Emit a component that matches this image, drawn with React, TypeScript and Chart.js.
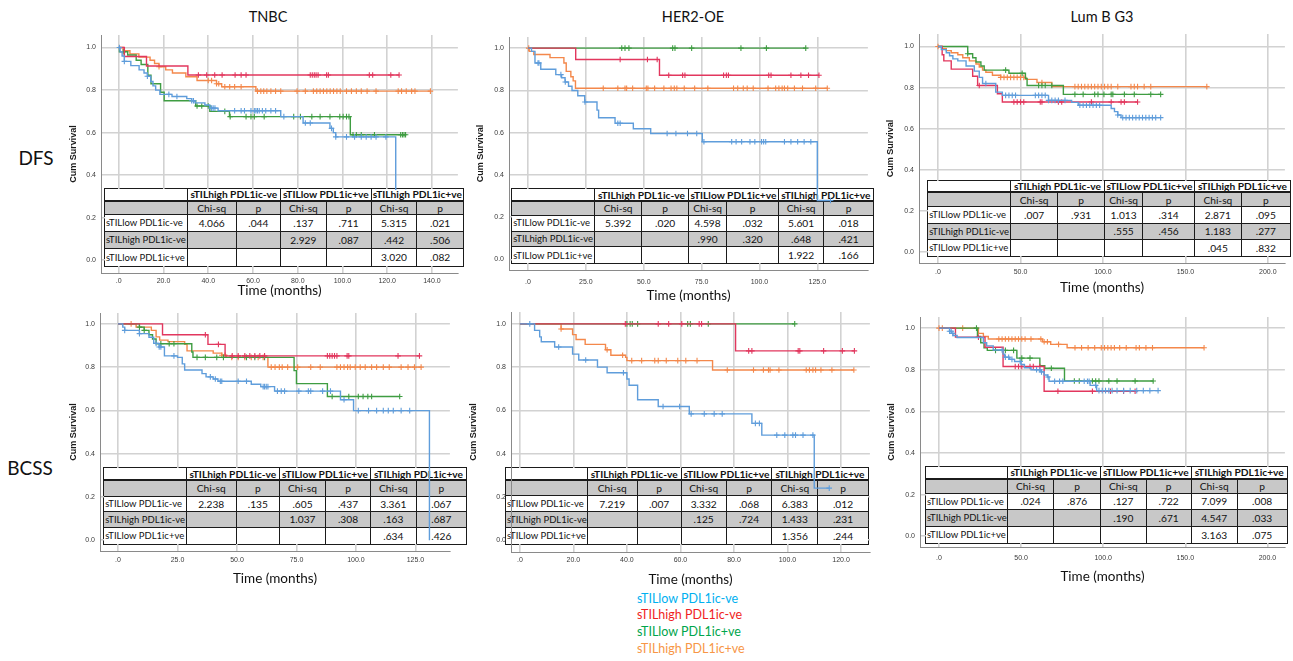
import React, { useEffect, useRef } from "react";
import { Chart, registerables } from "chart.js";

Chart.register(...registerables);

type Step = [number, number];

// ---------- categories & labels ----------
const seriesLabels = ["sTILlow PDL1ic-ve", "sTILhigh PDL1ic-ve", "sTILlow PDL1ic+ve", "sTILhigh PDL1ic+ve"];
const lineColors = ["#5f9ddb", "#e2375e", "#3f9d42", "#f4884b"];
const legendColors = ["#00b0f0", "#f01e23", "#00a54c", "#f79646"];
const columnGroups = ["sTILhigh PDL1ic-ve", "sTILlow PDL1ic+ve", "sTILhigh PDL1ic+ve"];
const rowLabels = ["sTILlow PDL1ic-ve", "sTILhigh PDL1ic-ve", "sTILlow PDL1ic+ve"];
const subHeaders = ["Chi-sq", "p"];
const subtypeTitles = ["TNBC", "HER2-OE", "Lum B G3"];
const endpointTitles = ["DFS", "BCSS"];
const yTicks = [0, 0.2, 0.4, 0.6, 0.8, 1.0];
const xTicksTnbcDfs = [0, 20, 40, 60, 80, 100, 120, 140];
const xTicksHer2Dfs = [0, 25, 50, 75, 100, 125];
const xTicksLumB = [0, 50, 100, 150, 200];
const xTicksTnbcBcss = [0, 25, 50, 75, 100, 125];
const xTicksHer2Bcss = [0, 20, 40, 60, 80, 100, 120];

// ---------- TNBC DFS ----------
const tnbcDfsBlue: Step[] = [[0.6, 0.98], [1.5, 0.96], [2.5, 0.935], [5.4, 0.915], [9.1, 0.895], [11.3, 0.88], [12.8, 0.865], [14.3, 0.84], [15.3, 0.82], [16.5, 0.8], [18.4, 0.78], [23.8, 0.77], [30.4, 0.76], [32.6, 0.75], [34.1, 0.74], [38.5, 0.73], [40.7, 0.715], [44.4, 0.703], [72.4, 0.675], [82.4, 0.645], [94.4, 0.62], [95.9, 0.6], [97, 0.58], [123.8, 0.33]];
const tnbcDfsBlueCens = [0.3, 2.5, 12.8, 22.4, 26, 32.6, 33.4, 41.5, 42.2, 43, 51.8, 54.7, 56.2, 59.1, 60.6, 61.3, 62, 62.8, 64.2, 65.7, 68, 70.1, 73.8, 83.4, 85.6, 95.1, 97, 101.8, 105.4, 108.4, 110.6, 112.8, 115, 119.4];
const tnbcDfsRed: Step[] = [[2.5, 0.958], [12.4, 0.913], [30.9, 0.871]];
const tnbcDfsRedCens = [35.6, 39.3, 42.9, 46.2, 52, 54.7, 56.9, 85.6, 86.5, 87.4, 88.2, 89.1, 92.9, 93.7, 112, 113.5, 121.6, 125.3];
const tnbcDfsGreen: Step[] = [[0.3, 0.98], [4, 0.965], [7.8, 0.94], [10, 0.92], [13, 0.87], [14.4, 0.83], [18.7, 0.79], [20.3, 0.75], [34.4, 0.725], [40.7, 0.7], [49.5, 0.675], [103.5, 0.59]];
const tnbcDfsGreenCens = [2, 35, 37.1, 40, 47.4, 49.8, 56.9, 59.1, 60.6, 65, 78.2, 81.2, 86.3, 90, 94.4, 98.8, 100.3, 101.8, 102.9, 104.7, 106.2, 108.4, 114.3, 126, 126.8, 127.5, 128.2];
const tnbcDfsOrange: Step[] = [[2, 0.985], [5, 0.97], [9, 0.955], [14, 0.94], [16, 0.925], [18, 0.91], [21, 0.895], [24, 0.88], [30, 0.863], [35, 0.845], [43.7, 0.83], [46, 0.816], [61.3, 0.795]];
const tnbcDfsOrangeCens = [18, 40, 41.5, 43.7, 44.7, 47.4, 49.6, 51.8, 54.7, 62, 63.5, 64.8, 66.2, 68, 70.1, 72.4, 79.7, 83.4, 87, 88.5, 90, 91.5, 93, 94.5, 96, 97.5, 99, 101.8, 104, 106.2, 108.4, 111, 115, 124.9, 126.4, 128.5, 130.9, 132.4, 139.3];
const tnbcDfsStats = [
  ["4.066", ".044", ".137", ".711", "5.315", ".021"],
  ["", "", "2.929", ".087", ".442", ".506"],
  ["", "", "", "", "3.020", ".082"],
];

// ---------- HER2-OE DFS ----------
const her2DfsBlue: Step[] = [[1.5, 0.985], [3, 0.93], [5.5, 0.9], [12, 0.875], [14.5, 0.86], [16, 0.84], [17.5, 0.82], [19, 0.8], [21.5, 0.775], [24.5, 0.745], [29.8, 0.707], [30.5, 0.671], [37.6, 0.645], [45.5, 0.619], [53, 0.596], [75.3, 0.557], [125, 0.279]];
const her2DfsBlueCens = [4.3, 4.7, 14.2, 16.1, 24.6, 38.8, 39.8, 60.1, 63.9, 68.9, 72.9, 76, 88, 89.9, 92.3, 95.9, 98, 100.9, 101.8, 102.7, 110.8, 113.6, 116.5, 119.3, 122.2, 130.7];
const her2DfsRed: Step[] = [[20.6, 0.946], [56.8, 0.872]];
const her2DfsRedCens = [39.8, 51.6, 55.8, 60.8, 66.8, 67.8, 84.5, 85.7, 86.6, 104, 105, 113.6, 117.9, 121.2, 125.7];
const her2DfsGreen: Step[] = [];
const her2DfsGreenCens = [40.5, 41.9, 43.6, 62.5, 63.5, 70.7, 92, 103, 120];
const her2DfsOrange: Step[] = [[0.5, 0.985], [2.5, 0.97], [9.5, 0.955], [15.5, 0.93], [16.5, 0.89], [18.5, 0.865], [19.5, 0.845], [20.5, 0.81]];
const her2DfsOrangeCens = [0.3, 32.5, 38.8, 41.9, 42.6, 45.2, 51.1, 51.8, 54.7, 58.7, 61.8, 63.2, 64.3, 67.5, 72, 77.7, 88.8, 90.6, 93, 94.7, 97.3, 103.7, 107, 108.4, 109.8, 110.8, 112.2, 115.1, 118.6, 124.3, 129.3];
const her2DfsStats = [
  ["5.392", ".020", "4.598", ".032", "5.601", ".018"],
  ["", "", ".990", ".320", ".648", ".421"],
  ["", "", "", "", "1.922", ".166"],
];

// ---------- Lum B G3 DFS ----------
const lumbDfsBlue: Step[] = [[2, 0.985], [5, 0.97], [7, 0.955], [9, 0.94], [12, 0.93], [17, 0.905], [22, 0.88], [25, 0.85], [27, 0.82], [35, 0.778], [39, 0.762], [67, 0.738], [81, 0.728], [85, 0.714], [105, 0.698], [107, 0.683], [109, 0.667], [111, 0.654]];
const lumbDfsBlueCens = [29, 41, 43, 45, 47, 59, 61, 63, 65, 67, 69, 71, 73, 77, 86, 88, 90, 92, 94, 96, 98, 109, 112, 114, 116, 118, 120, 122, 124, 126, 128, 130, 132, 135];
const lumbDfsRed: Step[] = [[2.5, 0.96], [3.5, 0.93], [8, 0.89], [21, 0.855], [24, 0.81], [36, 0.77], [39, 0.73]];
const lumbDfsRedCens = [25, 46, 48, 50, 52, 62, 63, 73, 75, 93, 105, 111, 113, 121];
const lumbDfsGreen: Step[] = [[18, 0.965], [21, 0.945], [23, 0.925], [26, 0.905], [28, 0.885], [43, 0.87], [53, 0.845], [54, 0.81], [76, 0.767]];
const lumbDfsGreenCens = [18, 41, 51, 61, 63, 65, 69, 83, 88, 95, 97, 100.6, 105, 106, 113, 119, 129, 135];
const lumbDfsOrange: Step[] = [[2.5, 0.99], [5, 0.98], [8, 0.97], [12, 0.96], [15, 0.945], [19, 0.93], [23, 0.915], [25, 0.9], [27, 0.885], [29, 0.875], [33, 0.86], [38, 0.85], [53, 0.84], [60, 0.825], [69, 0.805]];
const lumbDfsOrangeCens = [0, 38, 40, 42, 44, 46, 48, 50, 52, 63, 83, 85, 87, 89, 91, 93, 95, 97, 99, 101, 103, 105, 109, 117, 119, 121, 125, 129, 163];
const lumbDfsStats = [
  [".007", ".931", "1.013", ".314", "2.871", ".095"],
  ["", "", ".555", ".456", "1.183", ".277"],
  ["", "", "", "", ".045", ".832"],
];

// ---------- TNBC BCSS ----------
const tnbcBcssBlue: Step[] = [[2, 0.985], [2.8, 0.97], [9, 0.955], [13, 0.938], [15, 0.91], [17.3, 0.893], [19.5, 0.852], [25, 0.845], [27, 0.815], [28, 0.787], [35.3, 0.77], [37, 0.755], [40, 0.745], [42, 0.735], [56, 0.721], [60, 0.71], [65.8, 0.689], [93.5, 0.649], [99, 0.599], [130.9, 0]];
const tnbcBcssBlueCens = [2.8, 9, 16, 17.3, 18, 23.5, 38.8, 40.9, 43, 43.6, 50.5, 54, 61, 61.6, 62.3, 63, 67, 68.6, 70, 76, 80, 81, 86, 89.3, 95, 101, 105.3, 108.7, 111.5, 113.6, 115.7, 119, 122.6];
const tnbcBcssRed: Step[] = [[18.7, 0.95], [37.8, 0.905], [45, 0.852]];
const tnbcBcssRedCens = [36.7, 42.2, 48, 50.5, 53.3, 55.4, 57.5, 59.6, 61.6, 88, 89, 90, 91, 92, 96.3, 97, 117.7, 126.7];
const tnbcBcssGreen: Step[] = [[9, 0.985], [11, 0.97], [13, 0.95], [14.5, 0.93], [16, 0.908], [31, 0.87], [31.5, 0.845], [74, 0.784], [75, 0.724], [88, 0.664]];
const tnbcBcssGreenCens = [9, 11, 18, 21.5, 23.5, 33.2, 36.7, 41.5, 44.3, 54, 57.5, 61.6, 90, 97, 101, 103, 105, 106.6, 118.4];
const tnbcBcssOrange: Step[] = [[7.6, 0.985], [14, 0.97], [16, 0.94], [17.5, 0.925], [21, 0.918], [28, 0.905], [29, 0.875], [40, 0.865], [43.6, 0.855], [45.5, 0.845], [63, 0.8]];
const tnbcBcssOrangeCens = [5.5, 43.6, 45, 47.8, 50.5, 53.3, 56, 58.9, 61, 64.4, 66, 67.8, 69, 71.3, 75.5, 81, 85, 92, 93.5, 95, 96.5, 97.6, 99.7, 101.8, 103.9, 106.6, 108.7, 111.5, 114, 119, 121.9, 124.6, 127.4];
const tnbcBcssStats = [
  ["2.238", ".135", ".605", ".437", "3.361", ".067"],
  ["", "", "1.037", ".308", ".163", ".687"],
  ["", "", "", "", ".634", ".426"],
];

// ---------- HER2-OE BCSS ----------
const her2BcssBlue: Step[] = [[5.5, 0.97], [7.4, 0.94], [8, 0.917], [13, 0.893], [19.7, 0.86], [22, 0.833], [29, 0.8], [32.6, 0.774], [40, 0.745], [40.8, 0.716], [44, 0.649], [51.7, 0.618], [63.3, 0.584], [86.7, 0.54], [90.4, 0.486], [110, 0.241]];
const her2BcssBlueCens = [3.7, 14.5, 24.6, 38.7, 53.5, 59.7, 64, 68.9, 72.6, 75.6, 88, 89.5, 96, 99, 102, 103, 105.8, 109.5, 115.6];
const her2BcssRed: Step[] = [[80.6, 0.875]];
const her2BcssRedCens = [39.4, 51.7, 55.6, 60.5, 67, 67.9, 85.5, 86.7, 104, 104.6, 113.5, 120.5, 125];
const her2BcssGreen: Step[] = [];
const her2BcssGreenCens = [40, 41.2, 42, 44, 62.7, 63.7, 70.4, 102.7];
const her2BcssOrange: Step[] = [[15.4, 0.976], [19.7, 0.95], [21, 0.928], [24.4, 0.905], [32, 0.88], [34, 0.855], [39.5, 0.845], [40, 0.83], [72, 0.787]];
const her2BcssOrangeCens = [15.4, 32.6, 38.4, 41.8, 45.5, 50.4, 51.7, 54.7, 59, 62, 66.2, 77.5, 87.3, 91, 92.9, 93.5, 96.8, 107, 108.2, 109.5, 110.5, 112.5, 116.6, 124.8];
const her2BcssStats = [
  ["7.219", ".007", "3.332", ".068", "6.383", ".012"],
  ["", "", ".125", ".724", "1.433", ".231"],
  ["", "", "", "", "1.356", ".244"],
];

// ---------- Lum B G3 BCSS ----------
const lumbBcssBlue: Step[] = [[6.4, 0.985], [7.5, 0.975], [8.5, 0.965], [11, 0.955], [27, 0.93], [29, 0.915], [33, 0.895], [39, 0.875], [40, 0.86], [43, 0.85], [46, 0.84], [50, 0.825], [52, 0.81], [56, 0.8], [62, 0.79], [64, 0.775], [66, 0.765], [67, 0.745], [92, 0.725], [96, 0.7]];
const lumbBcssBlueCens = [6.4, 7.4, 8.4, 38.4, 40.4, 42.4, 44.4, 49.4, 59.4, 61.4, 62.4, 66.4, 70.4, 73.4, 75.4, 88.4, 90.4, 91.4, 95.4, 97.4, 99.4, 101.4, 103.4, 105.4, 108.4, 112.4, 116.4, 120.4, 124.4, 128.4, 133.4];
const lumbBcssRed: Step[] = [[10, 0.957], [28, 0.908], [39, 0.816], [64, 0.697]];
const lumbBcssRedCens = [24, 46.4, 48.4, 50.4, 55.4, 57.4, 61.4, 72.4, 93.4, 104.4, 112.4, 119.4];
const lumbBcssGreen: Step[] = [[23.4, 0.96], [25.4, 0.93], [27.4, 0.906], [29.4, 0.893], [47.4, 0.856], [61.4, 0.82], [64.4, 0.807], [76.4, 0.746]];
const lumbBcssGreenCens = [22.8, 34.4, 40.4, 45.4, 50.4, 55.4, 68.4, 82.4, 85.4, 93.4, 95.4, 97.4, 103.4, 108.4, 119.4, 130.4];
const lumbBcssOrange: Step[] = [[24, 0.975], [27, 0.96], [30, 0.948], [63, 0.935], [68, 0.922], [78, 0.906]];
const lumbBcssOrangeCens = [0, 2, 14.4, 36.4, 38.4, 40.4, 42.4, 44.4, 46.4, 48.4, 50.4, 52.4, 56, 62, 64, 66, 72.8, 82.8, 86.8, 90.8, 94.8, 98.8, 100.8, 102.8, 104.8, 106.8, 110, 114, 120, 122, 126, 130, 161.4];
const lumbBcssStats = [
  [".024", ".876", ".127", ".722", "7.099", ".008"],
  ["", "", ".190", ".671", "4.547", ".033"],
  ["", "", "", "", "3.163", ".075"],
];

// ---------- layout (page pixels) ----------
interface Geom {
  l: number; r: number; t: number; b: number;
  x0: number; xRefVal: number; xRefPx: number;
  y1: number; y0: number;
  yTitleX: number; xTitleY: number; xTickPad: number;
}
interface TableGeom { cols: number[]; rows: number[] }
interface Series { steps: Step[]; cens: number[] }
interface PanelCfg { id: string; geom: Geom; xTicks: number[]; series: Series[]; stats: string[][]; table: TableGeom }

const panels: PanelCfg[] = [
  {
    id: "tnbc-dfs",
    geom: { l: 101, r: 463, t: 30, b: 273, x0: 119, xRefVal: 140, xRefPx: 436.7, y1: 42.7, y0: 260, yTitleX: 73, xTitleY: 291, xTickPad: 3.5 },
    xTicks: xTicksTnbcDfs,
    series: [
      { steps: tnbcDfsBlue, cens: tnbcDfsBlueCens },
      { steps: tnbcDfsRed, cens: tnbcDfsRedCens },
      { steps: tnbcDfsGreen, cens: tnbcDfsGreenCens },
      { steps: tnbcDfsOrange, cens: tnbcDfsOrangeCens },
    ],
    stats: tnbcDfsStats,
    table: { cols: [105, 187.7, 236.7, 281, 326.7, 371.7, 417.3, 463], rows: [189, 202, 215, 232, 249, 266] },
  },
  {
    id: "her2-dfs",
    geom: { l: 509, r: 873, t: 32, b: 270, x0: 528.3, xRefVal: 125, xRefPx: 821.7, y1: 43.3, y0: 259.3, yTitleX: 480, xTitleY: 296, xTickPad: 7.5 },
    xTicks: xTicksHer2Dfs,
    series: [
      { steps: her2DfsBlue, cens: her2DfsBlueCens },
      { steps: her2DfsRed, cens: her2DfsRedCens },
      { steps: her2DfsGreen, cens: her2DfsGreenCens },
      { steps: her2DfsOrange, cens: her2DfsOrangeCens },
    ],
    stats: her2DfsStats,
    table: { cols: [512.3, 595, 642.3, 689, 727.3, 779, 824.3, 872.7], rows: [189.3, 202.3, 215.7, 231.7, 247.3, 263.3] },
  },
  {
    id: "lumb-dfs",
    geom: { l: 919, r: 1290, t: 29, b: 263, x0: 938.3, xRefVal: 200, xRefPx: 1272.7, y1: 41.7, y0: 251.7, yTitleX: 890, xTitleY: 288, xTickPad: 4.5 },
    xTicks: xTicksLumB,
    series: [
      { steps: lumbDfsBlue, cens: lumbDfsBlueCens },
      { steps: lumbDfsRed, cens: lumbDfsRedCens },
      { steps: lumbDfsGreen, cens: lumbDfsGreenCens },
      { steps: lumbDfsOrange, cens: lumbDfsOrangeCens },
    ],
    stats: lumbDfsStats,
    table: { cols: [928.3, 1011, 1058.3, 1105, 1143.3, 1195, 1241.7, 1290], rows: [180.7, 193.3, 207.3, 224, 240, 255.7] },
  },
  {
    id: "tnbc-bcss",
    geom: { l: 100, r: 455, t: 308, b: 551, x0: 118.3, xRefVal: 125, xRefPx: 420, y1: 319, y0: 540, yTitleX: 73, xTitleY: 579, xTickPad: 4.5 },
    xTicks: xTicksTnbcBcss,
    series: [
      { steps: tnbcBcssBlue, cens: tnbcBcssBlueCens },
      { steps: tnbcBcssRed, cens: tnbcBcssRedCens },
      { steps: tnbcBcssGreen, cens: tnbcBcssGreenCens },
      { steps: tnbcBcssOrange, cens: tnbcBcssOrangeCens },
    ],
    stats: tnbcBcssStats,
    table: { cols: [104.3, 186.7, 236.7, 280, 326, 371, 416.7, 466], rows: [468.3, 481, 496.7, 512.3, 527.7, 544.3] },
  },
  {
    id: "her2-bcss",
    geom: { l: 511, r: 875, t: 307, b: 552, x0: 520, xRefVal: 120, xRefPx: 845.7, y1: 319, y0: 540, yTitleX: 473, xTitleY: 580, xTickPad: 4 },
    xTicks: xTicksHer2Bcss,
    series: [
      { steps: her2BcssBlue, cens: her2BcssBlueCens },
      { steps: her2BcssRed, cens: her2BcssRedCens },
      { steps: her2BcssGreen, cens: her2BcssGreenCens },
      { steps: her2BcssOrange, cens: her2BcssOrangeCens },
    ],
    stats: her2BcssStats,
    table: { cols: [506, 587.7, 637.7, 681.7, 726.7, 772.3, 818.3, 867.7], rows: [468.3, 481, 496, 512.3, 527.7, 544.3] },
  },
  {
    id: "lumb-bcss",
    geom: { l: 920, r: 1290, t: 312, b: 547, x0: 939.3, xRefVal: 200, xRefPx: 1272.3, y1: 323.3, y0: 536, yTitleX: 891, xTitleY: 577, xTickPad: 7 },
    xTicks: xTicksLumB,
    series: [
      { steps: lumbBcssBlue, cens: lumbBcssBlueCens },
      { steps: lumbBcssRed, cens: lumbBcssRedCens },
      { steps: lumbBcssGreen, cens: lumbBcssGreenCens },
      { steps: lumbBcssOrange, cens: lumbBcssOrangeCens },
    ],
    stats: lumbBcssStats,
    table: { cols: [926, 1007.7, 1054.3, 1101, 1146.7, 1191.7, 1237.7, 1286.7], rows: [466.7, 480, 494, 510, 526.7, 543.3] },
  },
];

const Y_TITLE_SIZE = 9;
const Y_TITLE_LH = Y_TITLE_SIZE * 1.2;
const X_TITLE_SIZE = 13.5;
const X_TITLE_LH = X_TITLE_SIZE * 1.2;
const TABLE_FONT = 10.2;
const ROW_LABEL_FONT = 9.5;
const GRAY = "#c8c8c8";
const LINE = "#1b1b1b";

const survAt = (steps: Step[], t: number) => {
  let s = 1;
  for (const [x, y] of steps) {
    if (x <= t) s = y;
    else break;
  }
  return s;
};

const fmtX = (v: number) => (v === 0 ? ".0" : v.toFixed(1));

const clearTablePlugin = {
  id: "clearTable",
  beforeDatasetsDraw(chart: any, _args: any, opts: any) {
    const rect = opts && opts.rect;
    if (!rect) return;
    const ca = chart.chartArea;
    const x1 = Math.max(rect.x, ca.left + 1);
    const x2 = Math.min(rect.x + rect.w, ca.right);
    const y1 = Math.max(rect.y, ca.top);
    const y2 = Math.min(rect.y + rect.h, ca.bottom - 1);
    if (x2 > x1 && y2 > y1) chart.ctx.clearRect(x1, y1, x2 - x1, y2 - y1);
  },
};

function KMPanel({ cfg }: { cfg: PanelCfg }) {
  const ref = useRef<HTMLCanvasElement>(null);
  const g = cfg.geom;
  const cLeft = Math.round(g.yTitleX - Y_TITLE_LH / 2);
  const cTop = g.t;
  const cW = g.r - cLeft;
  const cBottom = Math.round(g.xTitleY + X_TITLE_LH / 2);
  const cH = cBottom - cTop;

  useEffect(() => {
    if (!ref.current) return;
    const ppx = (g.xRefPx - g.x0) / g.xRefVal;
    const xMin = (g.l - g.x0) / ppx;
    const xMax = (g.r - g.x0) / ppx;
    const ppy = g.y0 - g.y1;
    const yMin = -(g.b - g.y0) / ppy;
    const yMax = 1 + (g.y1 - g.t) / ppy;

    const datasets: any[] = [];
    cfg.series.forEach((s, i) => {
      const color = lineColors[i];
      const pts = [{ x: 0, y: 1 }, ...s.steps.map(([x, y]) => ({ x, y }))];
      const last = pts[pts.length - 1];
      const end = Math.max(last.x, ...s.cens);
      if (end > last.x) pts.push({ x: end, y: last.y });
      datasets.push({
        label: seriesLabels[i],
        data: pts,
        borderColor: color,
        borderWidth: 1.4,
        stepped: true,
        pointRadius: 0,
        fill: false,
      });
      datasets.push({
        label: seriesLabels[i] + " censored",
        data: s.cens.map((t) => ({ x: t, y: survAt(s.steps, t) })),
        showLine: false,
        pointStyle: "cross",
        pointRadius: 2.8,
        pointBorderWidth: 1.1,
        pointBorderColor: color,
        pointBackgroundColor: color,
        borderColor: color,
      });
    });

    const t = cfg.table;
    const tableRect = {
      x: t.cols[0] - cLeft,
      y: t.rows[0] - cTop,
      w: t.cols[t.cols.length - 1] - t.cols[0],
      h: t.rows[t.rows.length - 1] - t.rows[0],
    };

    const tickFont = { family: "'Liberation Sans', Arial, sans-serif", size: 7 };
    const chart = new Chart(ref.current, {
      type: "line",
      data: { datasets },
      plugins: [clearTablePlugin],
      options: {
        animation: false,
        responsive: false,
        maintainAspectRatio: false,
        layout: { padding: 0 },
        events: [],
        plugins: {
          legend: { display: false },
          tooltip: { enabled: false },
          title: { display: false },
          clearTable: { rect: tableRect },
        } as any,
        scales: {
          x: {
            type: "linear",
            position: "bottom",
            min: xMin,
            max: xMax,
            afterBuildTicks: (sc: any) => {
              sc.ticks = cfg.xTicks.map((v) => ({ value: v }));
            },
            afterFit: (sc: any) => {
              sc.height = cBottom - g.b;
              sc.paddingLeft = 0;
              sc.paddingRight = 0;
            },
            grid: { color: "#d2d2d2", lineWidth: 1.6, drawTicks: false },
            border: { display: true, color: "#8a8a8a", width: 1 },
            ticks: {
              autoSkip: false,
              maxRotation: 0,
              minRotation: 0,
              padding: g.xTickPad,
              font: tickFont,
              color: "#3a3a3a",
              callback: (v: any) => fmtX(Number(v)),
            },
            title: {
              display: true,
              text: "Time (months)",
              color: "#111",
              padding: 0,
              font: { family: "Lato, sans-serif", size: X_TITLE_SIZE },
            },
          },
          y: {
            type: "linear",
            position: "left",
            min: yMin,
            max: yMax,
            afterBuildTicks: (sc: any) => {
              sc.ticks = yTicks.map((v) => ({ value: v }));
            },
            afterFit: (sc: any) => {
              sc.width = g.l - cLeft;
              sc.paddingTop = 0;
              sc.paddingBottom = 0;
            },
            grid: { color: "#d2d2d2", lineWidth: 1.6, drawTicks: false },
            border: { display: true, color: "#8a8a8a", width: 1 },
            ticks: {
              autoSkip: false,
              padding: 5,
              font: tickFont,
              color: "#3a3a3a",
              callback: (v: any) => Number(v).toFixed(1),
            },
            title: {
              display: true,
              text: "Cum Survival",
              color: "#1a1a1a",
              padding: 0,
              font: { family: "'Liberation Sans', Arial, sans-serif", size: Y_TITLE_SIZE, weight: "bold" },
            },
          },
        },
      } as any,
    });
    return () => chart.destroy();
  }, [cfg]);

  return (
    <>
      <StatTable cfg={cfg} />
      <canvas
        ref={ref}
        width={cW}
        height={cH}
        style={{ position: "absolute", left: cLeft, top: cTop, width: cW, height: cH, zIndex: 2, pointerEvents: "none" }}
      />
    </>
  );
}

function StatTable({ cfg }: { cfg: PanelCfg }) {
  const { cols, rows } = cfg.table;
  const x0 = cols[0];
  const y0 = rows[0];
  const W = cols[cols.length - 1] - x0;
  const H = rows[rows.length - 1] - y0;
  const cells: React.ReactNode[] = [];
  const cell = (key: string, c0: number, c1: number, r: number, text: string, opts: { bold?: boolean; gray?: boolean; left?: boolean }) => {
    const isLastCol = c1 === cols.length - 1;
    const isLastRow = r === rows.length - 2;
    cells.push(
      <div
        key={key}
        style={{
          position: "absolute",
          left: cols[c0] - x0,
          top: rows[r] - y0,
          width: cols[c1] - cols[c0],
          height: rows[r + 1] - rows[r],
          boxSizing: "border-box",
          background: opts.gray ? GRAY : "#fff",
          borderRight: isLastCol ? "none" : `1.5px solid ${LINE}`,
          borderBottom: isLastRow ? "none" : r === 0 ? `2px solid ${LINE}` : `1px solid ${LINE}`,
          display: "flex",
          alignItems: "center",
          justifyContent: opts.left ? "flex-start" : "center",
          paddingLeft: opts.left ? 1 : 0,
          fontFamily: "Lato, sans-serif",
          fontSize: opts.left ? ROW_LABEL_FONT : TABLE_FONT,
          fontWeight: opts.bold ? 700 : 400,
          color: "#111",
          whiteSpace: "nowrap",
          overflow: "hidden",
          lineHeight: 1,
        }}
      >
        {text}
      </div>
    );
  };
  cell("h0", 0, 1, 0, "", {});
  columnGroups.forEach((gname, j) => cell(`h${j + 1}`, 1 + 2 * j, 3 + 2 * j, 0, gname, { bold: true }));
  cell("s0", 0, 1, 1, "", { gray: true });
  for (let j = 0; j < 6; j++) cell(`s${j + 1}`, 1 + j, 2 + j, 1, subHeaders[j % 2], { gray: true });
  rowLabels.forEach((lab, i) => {
    const gray = i === 1;
    cell(`r${i}l`, 0, 1, 2 + i, lab, { gray, left: true });
    cfg.stats[i].forEach((v, j) => cell(`r${i}c${j}`, 1 + j, 2 + j, 2 + i, v, { gray }));
  });
  return (
    <div
      style={{
        position: "absolute",
        left: x0,
        top: y0,
        width: W,
        height: H,
        zIndex: 1,
        outline: `1.5px solid ${LINE}`,
        background: "#fff",
      }}
    >
      {cells}
    </div>
  );
}

const titleX = [268, 693, 1102];
const endpointPos = [
  { x: 36, y: 158 },
  { x: 30, y: 468 },
];

export default function App() {
  return (
    <div
      style={{
        position: "fixed",
        left: 0,
        top: 0,
        width: 1293,
        height: 661,
        background: "#fff",
        overflow: "hidden",
        fontFamily: "Lato, sans-serif",
      }}
    >
      {subtypeTitles.map((t, i) => (
        <div
          key={t}
          style={{ position: "absolute", left: titleX[i] - 100, top: 17 - 9, width: 200, height: 18, lineHeight: "18px", textAlign: "center", fontSize: 14.5, color: "#111" }}
        >
          {t}
        </div>
      ))}
      {endpointTitles.map((t, i) => (
        <div
          key={t}
          style={{ position: "absolute", left: endpointPos[i].x - 40, top: endpointPos[i].y - 12, width: 80, height: 24, lineHeight: "24px", textAlign: "center", fontSize: 19, color: "#111" }}
        >
          {t}
        </div>
      ))}
      {panels.map((p) => (
        <KMPanel key={p.id} cfg={p} />
      ))}
      <div style={{ position: "absolute", left: 637, top: 590.6, zIndex: 3 }}>
        {seriesLabels.map((s, i) => (
          <div key={s} style={{ color: legendColors[i], fontSize: 12.5, lineHeight: "16.7px", height: 16.7, whiteSpace: "nowrap" }}>
            {s}
          </div>
        ))}
      </div>
    </div>
  );
}
